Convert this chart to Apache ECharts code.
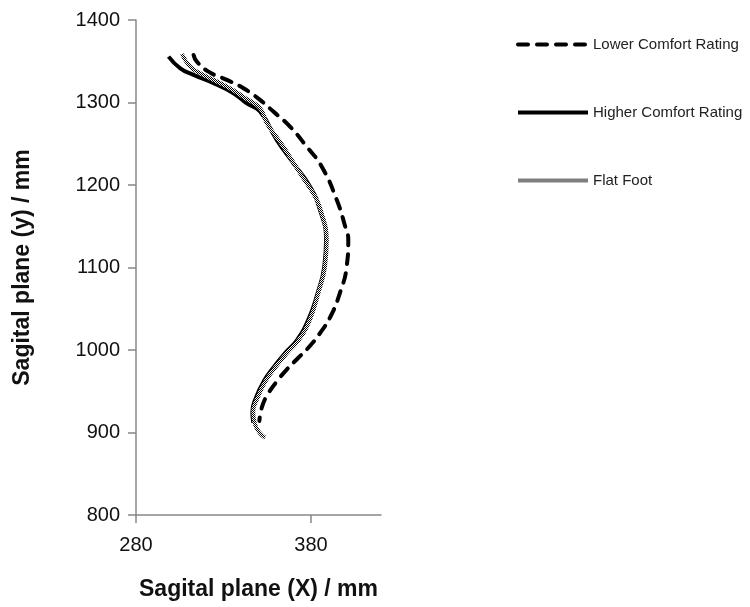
<!DOCTYPE html>
<html><head><meta charset="utf-8">
<script src="https://cdn.jsdelivr.net/npm/echarts@6/dist/echarts.min.js"></script>
<style>html,body{margin:0;padding:0;background:#fff}#c{width:750px;height:607px}</style>
</head><body><div id="c"></div>
<script>
const seriesNames = ['Lower Comfort Rating', 'Higher Comfort Rating', 'Flat Foot'];
const xTicks = [280, 380];
const lowerComfort = [
  [312.9,1357.6],[314.8,1349.5],[321.4,1337.4],[331.9,1327.4],[341.4,1317.3],[350.9,1303.1],
  [358.5,1289],[368,1270.8],[377.5,1246.6],[386.1,1222.4],[394.7,1182],[399.5,1150],[401.3,1133.7],
  [400.4,1101.3],[396.5,1069],[391,1040],[385,1020],[379,1004],[372.5,990],[366,976],
  [360.5,962],[355.5,947],[352,931],[350.5,914]
];
const higherComfort = [
  [298.6,1355.6],[305.3,1341.5],[312.9,1333.4],[324.3,1323.4],[335.7,1311.3],[343.3,1299],[350.9,1289],
  [360.4,1254.7],[369.9,1226.5],[379.4,1198.2],[385.1,1170],[388.6,1133.7],[387.6,1101.3],[383.8,1069],
  [378.5,1036.8],[372,1012],[366,998],[359,980],[353,962],[348.5,942],[346.5,925],[347,912]
];
const flatFoot = [
  [306.2,1358.8],[311,1343.5],[316.7,1335.5],[331.9,1319.3],[342,1306],[350.9,1293],[354.7,1275],
  [364.2,1246.6],[373.7,1214.4],[382.3,1186],[385.5,1170],[389,1133.7],[388,1101.3],[384.2,1069],
  [379.4,1036.8],[373,1012],[367,998],[360,980],[354,962],[349.5,942],[347,925],[348,910],[350.5,900],[353.8,893.6]
];

const pc = document.createElement('canvas');
pc.width = 2; pc.height = 2;
const pctx = pc.getContext('2d');
pctx.fillStyle = '#fff'; pctx.fillRect(0,0,2,2);
pctx.fillStyle = '#000'; pctx.fillRect(0,0,1,1); pctx.fillRect(1,1,1,1);
const checker = {image: pc, repeat: 'repeat'};

const FONT = 'Liberation Sans';
const dashStyle = {color: '#000', width: 4, type: [10, 9], cap: 'round'};
const solidStyle = {color: '#000', width: 4};
const flatStyle = {color: checker, width: 4};
const chart = echarts.init(document.getElementById('c'), null, {renderer: 'canvas'});
chart.setOption({
  animation: false,
  backgroundColor: '#fff',
  textStyle: {fontFamily: FONT},
  grid: {left: 136, top: 20, right: 369, bottom: 92},
  legend: {
    orient: 'vertical', left: 511, top: 32, itemWidth: 70, itemHeight: 16, itemGap: 53,
    textStyle: {fontFamily: FONT, fontSize: 15, color: '#222'},
    itemStyle: {opacity: 0},
    data: [
      {name: seriesNames[0], itemStyle: {opacity: 0}, lineStyle: dashStyle},
      {name: seriesNames[1], itemStyle: {opacity: 0}, lineStyle: solidStyle},
      {name: seriesNames[2], itemStyle: {opacity: 0}, lineStyle: flatStyle}
    ]
  },
  xAxis: {
    type: 'value', min: 280, max: 420,
    name: 'Sagital plane (X) / mm', nameLocation: 'middle', nameGap: 63,
    nameTextStyle: {fontFamily: FONT, fontWeight: 'bold', fontSize: 23, color: '#111'},
    axisLine: {show: true, lineStyle: {color: '#888', width: 1.5}},
    axisTick: {show: true, length: 8, inside: false, customValues: xTicks, lineStyle: {color: '#888', width: 1.5}},
    axisLabel: {customValues: xTicks, margin: 20, fontSize: 20, color: '#111', fontFamily: FONT},
    splitLine: {show: false}
  },
  yAxis: {
    type: 'value', min: 800, max: 1400, interval: 100,
    name: 'Sagital plane (y) / mm', nameLocation: 'middle', nameGap: 102, nameRotate: 90,
    nameTextStyle: {fontFamily: FONT, fontWeight: 'bold', fontSize: 23, color: '#111'},
    axisLine: {show: true, lineStyle: {color: '#888', width: 1.5}},
    axisTick: {show: true, length: 8, lineStyle: {color: '#888', width: 1.5}},
    axisLabel: {margin: 16, fontSize: 20, color: '#111', fontFamily: FONT, formatter: v => String(v)},
    splitLine: {show: false}
  },
  series: [
    {name: seriesNames[0], type: 'line', data: lowerComfort, smooth: true, showSymbol: false, symbol: 'none',
     lineStyle: dashStyle, itemStyle: {color: '#000'}, z: 3},
    {name: seriesNames[1], type: 'line', data: higherComfort, smooth: true, showSymbol: false, symbol: 'none',
     lineStyle: solidStyle, itemStyle: {color: '#000'}, z: 2},
    {name: seriesNames[2], type: 'line', data: flatFoot, smooth: true, showSymbol: false, symbol: 'none',
     lineStyle: flatStyle, itemStyle: {color: '#777'}, z: 4}
  ]
});
</script></body></html>
